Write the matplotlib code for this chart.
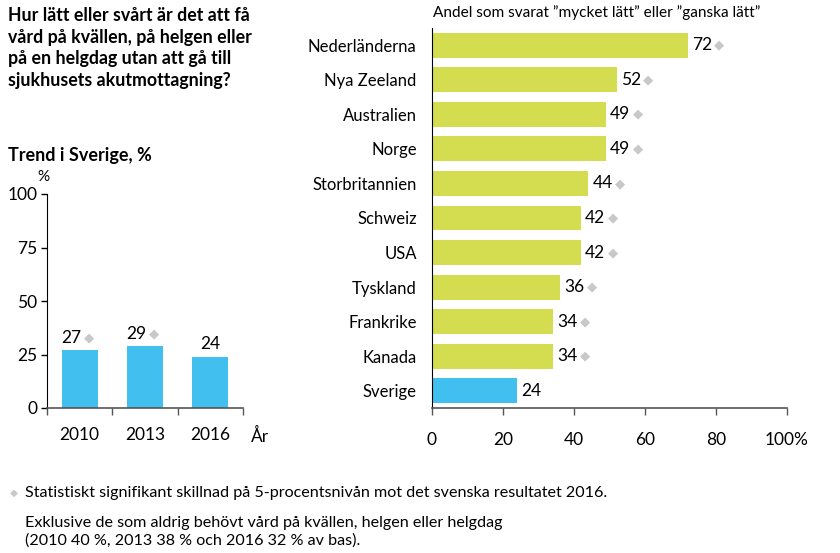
import matplotlib
matplotlib.use("Agg")
import matplotlib.pyplot as plt

plt.rcParams['font.family'] = ['Lato', 'DejaVu Sans']

# Data
years = ['2010', '2013', '2016']
trend = [27, 29, 24]
trend_sig = [True, True, False]

countries = ['Nederländerna', 'Nya Zeeland', 'Australien', 'Norge', 'Storbritannien',
             'Schweiz', 'USA', 'Tyskland', 'Frankrike', 'Kanada', 'Sverige']
values = [72, 52, 49, 49, 44, 42, 42, 36, 34, 34, 24]
sig = [True] * 10 + [False]

GREEN = '#D4DC50'
BLUE = '#41BFEE'
DIA = '#C8C8C8'
AXC = '#555555'

W, H = 840, 553
fig = plt.figure(figsize=(8.4, 5.53), dpi=100)

def px(x, y):
    return x / W, 1 - y / H

FS = 12.5

# Titles
fig.text(*px(8, 7), 'Hur lätt eller svårt är det att få\nvård på kvällen, på helgen eller\npå en helgdag utan att gå till\nsjukhusets akutmottagning?',
         fontsize=12.8, fontweight='bold', va='top', ha='left', linespacing=1.33)
fig.text(*px(8, 155), 'Trend i Sverige, %', fontsize=13, fontweight='bold', va='center', ha='left')

# Left chart
axL = fig.add_axes([47 / W, 1 - 408 / H, 196 / W, 214 / H])
xs = list(range(len(years)))
axL.bar(xs, trend, width=0.55, color=BLUE)
axL.set_xlim(-0.5, 2.5)
axL.set_ylim(0, 100)
axL.set_yticks([0, 25, 50, 75, 100])
axL.set_yticklabels(['0', '25', '50', '75', '100'])
axL.tick_params(axis='y', length=4, width=1, labelsize=FS, pad=3, color='black')
axL.set_xticks([-0.5, 0.5, 1.5, 2.5])
axL.set_xticklabels([])
axL.set_xticks(xs, minor=True)
axL.set_xticklabels(years, minor=True)
axL.tick_params(axis='x', which='major', length=5, width=1, color=AXC)
axL.tick_params(axis='x', which='minor', length=0, labelsize=FS, pad=14)
for s in ['top', 'right']:
    axL.spines[s].set_visible(False)
axL.spines['left'].set_color('black')
axL.spines['bottom'].set_color(AXC)
axL.spines['bottom'].set_linewidth(1.2)
for x, v, s in zip(xs, trend, trend_sig):
    if s:
        axL.annotate(str(v), (x, v), xytext=(-6, 3), textcoords='offset points',
                     ha='center', va='bottom', fontsize=FS)
        axL.annotate('◆', (x, v), xytext=(6.5, 4), textcoords='offset points',
                     ha='center', va='bottom', fontsize=9.5, color=DIA, family='DejaVu Sans')
    else:
        axL.annotate(str(v), (x, v), xytext=(0, 3), textcoords='offset points',
                     ha='center', va='bottom', fontsize=FS)
fig.text(*px(43, 177), '%', fontsize=11, ha='center', va='center')
fig.text(*px(251, 436), 'År', fontsize=FS, ha='left', va='center')

# Right chart
axR = fig.add_axes([432 / W, 1 - 408 / H, 355 / W, 380 / H])
ys = list(range(len(countries)))
cols = [BLUE if c == 'Sverige' else GREEN for c in countries]
axR.barh(ys, values, height=0.72, color=cols)
axR.set_ylim(len(countries) - 0.5, -0.5)
axR.set_xlim(0, 100)
axR.set_yticks(ys)
axR.set_yticklabels(countries)
axR.tick_params(axis='y', length=0, labelsize=12, pad=11)
axR.set_xticks([0, 20, 40, 60, 80, 100])
axR.set_xticklabels(['0', '20', '40', '60', '80', '100%'])
axR.tick_params(axis='x', length=5, width=1, color=AXC, labelsize=FS, pad=12)
for s in ['top', 'right']:
    axR.spines[s].set_visible(False)
axR.spines['left'].set_color('black')
axR.spines['bottom'].set_color(AXC)
axR.spines['bottom'].set_linewidth(1.2)
for y, v, s in zip(ys, values, sig):
    axR.annotate(str(v), (v, y), xytext=(3, 0), textcoords='offset points',
                 ha='left', va='center', fontsize=FS)
    if s:
        axR.annotate('◆', (v, y), xytext=(23, 0), textcoords='offset points',
                     ha='center', va='center', fontsize=9.5, color=DIA, family='DejaVu Sans')
fig.text(*px(433, 13), 'Andel som svarat ”mycket lätt” eller ”ganska lätt”', fontsize=11.1, ha='left', va='center')

# Footnotes
fig.text(*px(14, 493), '◆', fontsize=7.5, color=DIA, ha='center', va='center', family='DejaVu Sans')
fig.text(*px(25, 493), 'Statistiskt signifikant skillnad på 5-procentsnivån mot det svenska resultatet 2016.',
         fontsize=11.6, ha='left', va='center')
fig.text(*px(25, 516), 'Exklusive de som aldrig behövt vård på kvällen, helgen eller helgdag\n(2010 40 %, 2013 38 % och 2016 32 % av bas).',
         fontsize=11.6, ha='left', va='top', linespacing=1.3)

fig.savefig('out.png', dpi=100)
